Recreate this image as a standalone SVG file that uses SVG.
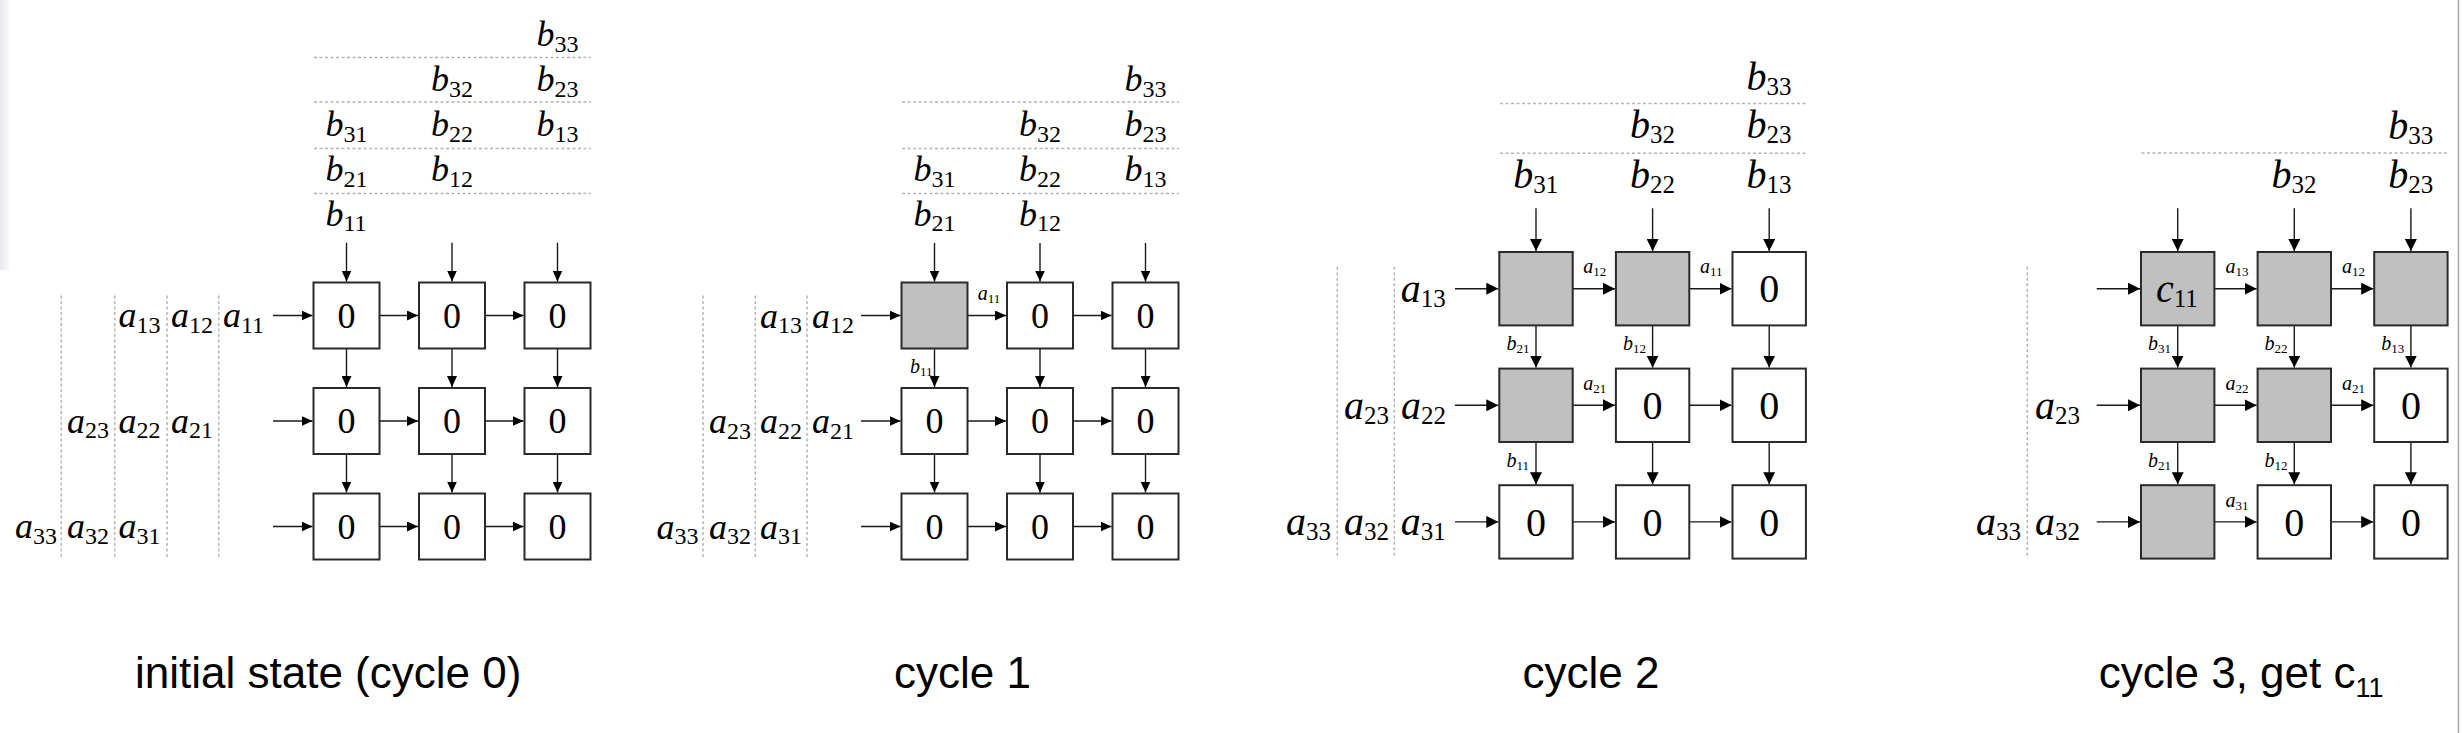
<svg xmlns="http://www.w3.org/2000/svg" width="2462" height="733" viewBox="0 0 2462 733">
<style>
.bg{fill:#ffffff}
.box{stroke:#2a2a2a;stroke-width:2;fill:#ffffff}
.box.g{fill:#c0c0c0}
.a1{stroke:#1a1a1a;stroke-width:1.4;fill:none;marker-end:url(#ah1)}
.a3{stroke:#1a1a1a;stroke-width:1.4;fill:none;marker-end:url(#ah3)}
.dot{stroke:#b4b4b4;stroke-width:1.5;stroke-dasharray:3 2.5;fill:none}
.t1{font-family:"Liberation Serif","Times New Roman",serif;font-size:36px;font-style:italic;fill:#000}
.t3{font-family:"Liberation Serif","Times New Roman",serif;font-size:40px;font-style:italic;fill:#000}
.s1{font-style:normal;font-size:24px}
.s3{font-style:normal;font-size:25px}
.sm{font-family:"Liberation Serif","Times New Roman",serif;font-size:20px;font-style:italic;fill:#000}
.ss{font-style:normal;font-size:13px}
.z1{font-family:"Liberation Serif","Times New Roman",serif;font-size:36px;text-anchor:middle;fill:#000}
.z3{font-family:"Liberation Serif","Times New Roman",serif;font-size:40px;text-anchor:middle;fill:#000}
.title{font-family:"Liberation Sans",Arial,sans-serif;font-size:44px;fill:#000}
.tsub{font-size:27px}
</style>
<defs>
<marker id="ah1" markerUnits="userSpaceOnUse" viewBox="0 0 11 10" refX="11" refY="5" markerWidth="11" markerHeight="10" orient="auto"><path d="M0,0 L11,5 L0,10 z" fill="#000"/></marker>
<marker id="ah3" markerUnits="userSpaceOnUse" viewBox="0 0 12 12" refX="12" refY="6" markerWidth="12" markerHeight="12" orient="auto"><path d="M0,0 L12,6 L0,12 z" fill="#000"/></marker>
<linearGradient id="edge" x1="0" y1="0" x2="1" y2="0"><stop offset="0" stop-color="#e6e8ee"/><stop offset="1" stop-color="#ffffff"/></linearGradient>
</defs>
<rect class="bg" x="0" y="0" width="2462" height="733"/>
<rect x="0" y="0" width="12" height="270" fill="url(#edge)"/>
<line x1="2458.5" y1="0" x2="2458.5" y2="733" stroke="#a8a8a8" stroke-width="1.5"/>

<!-- ============ PANEL 1 ============ -->
<g id="p1-dotted">
<path class="dot" d="M314 57.5H591M314 102H591M314 148.5H591M314 193.5H591"/>
<path class="dot" d="M61.3 295.6V558.5M114.7 295.6V558.5M167 295.6V558.5M218.7 295.6V558.5"/>
</g>
<g id="p1-connectors">
<path class="a1" d="M346.5 242.7V281.5"/><path class="a1" d="M452 242.7V281.5"/><path class="a1" d="M557.5 242.7V281.5"/>
<path class="a1" d="M346.5 348.5V387"/><path class="a1" d="M452 348.5V387"/><path class="a1" d="M557.5 348.5V387"/>
<path class="a1" d="M346.5 454V492.5"/><path class="a1" d="M452 454V492.5"/><path class="a1" d="M557.5 454V492.5"/>
<path class="a1" d="M273 315.5H312.5"/><path class="a1" d="M379.5 315.5H418"/><path class="a1" d="M485 315.5H523.5"/>
<path class="a1" d="M273 421H312.5"/><path class="a1" d="M379.5 421H418"/><path class="a1" d="M485 421H523.5"/>
<path class="a1" d="M273 526.5H312.5"/><path class="a1" d="M379.5 526.5H418"/><path class="a1" d="M485 526.5H523.5"/>
</g>
<g id="p1-pe11"><rect class="box" x="313.5" y="282.5" width="66" height="66"/><text class="z1" x="346.5" y="327.8">0</text></g>
<g id="p1-pe12"><rect class="box" x="419" y="282.5" width="66" height="66"/><text class="z1" x="452" y="327.8">0</text></g>
<g id="p1-pe13"><rect class="box" x="524.5" y="282.5" width="66" height="66"/><text class="z1" x="557.5" y="327.8">0</text></g>
<g id="p1-pe21"><rect class="box" x="313.5" y="388" width="66" height="66"/><text class="z1" x="346.5" y="433.3">0</text></g>
<g id="p1-pe22"><rect class="box" x="419" y="388" width="66" height="66"/><text class="z1" x="452" y="433.3">0</text></g>
<g id="p1-pe23"><rect class="box" x="524.5" y="388" width="66" height="66"/><text class="z1" x="557.5" y="433.3">0</text></g>
<g id="p1-pe31"><rect class="box" x="313.5" y="493.5" width="66" height="66"/><text class="z1" x="346.5" y="538.8">0</text></g>
<g id="p1-pe32"><rect class="box" x="419" y="493.5" width="66" height="66"/><text class="z1" x="452" y="538.8">0</text></g>
<g id="p1-pe33"><rect class="box" x="524.5" y="493.5" width="66" height="66"/><text class="z1" x="557.5" y="538.8">0</text></g>
<g id="p1-blabels">
<text class="t1" x="536.5" y="46">b<tspan class="s1" dy="5.5">33</tspan></text>
<text class="t1" x="431" y="91">b<tspan class="s1" dy="5.5">32</tspan></text>
<text class="t1" x="536.5" y="91">b<tspan class="s1" dy="5.5">23</tspan></text>
<text class="t1" x="325.5" y="136">b<tspan class="s1" dy="5.5">31</tspan></text>
<text class="t1" x="431" y="136">b<tspan class="s1" dy="5.5">22</tspan></text>
<text class="t1" x="536.5" y="136">b<tspan class="s1" dy="5.5">13</tspan></text>
<text class="t1" x="325.5" y="181">b<tspan class="s1" dy="5.5">21</tspan></text>
<text class="t1" x="431" y="181">b<tspan class="s1" dy="5.5">12</tspan></text>
<text class="t1" x="325.5" y="225.5">b<tspan class="s1" dy="5.5">11</tspan></text>
</g>
<g id="p1-alabels">
<text class="t1" x="118.6" y="327">a<tspan class="s1" dy="5.5">13</tspan></text>
<text class="t1" x="171" y="327">a<tspan class="s1" dy="5.5">12</tspan></text>
<text class="t1" x="223" y="327">a<tspan class="s1" dy="5.5">11</tspan></text>
<text class="t1" x="67" y="432.5">a<tspan class="s1" dy="5.5">23</tspan></text>
<text class="t1" x="118.6" y="432.5">a<tspan class="s1" dy="5.5">22</tspan></text>
<text class="t1" x="171" y="432.5">a<tspan class="s1" dy="5.5">21</tspan></text>
<text class="t1" x="15" y="538">a<tspan class="s1" dy="5.5">33</tspan></text>
<text class="t1" x="67" y="538">a<tspan class="s1" dy="5.5">32</tspan></text>
<text class="t1" x="118.6" y="538">a<tspan class="s1" dy="5.5">31</tspan></text>
</g>
<text id="title1" class="title" x="135" y="688">initial state (cycle 0)</text>

<!-- ============ PANEL 2 ============ -->
<g id="p2-dotted">
<path class="dot" d="M902 102H1179M902 148.5H1179M902 193.5H1179"/>
<path class="dot" d="M703 295.6V558.5M755.3 295.6V558.5M807 295.6V558.5"/>
</g>
<g id="p2-connectors">
<path class="a1" d="M934.5 243V281.5"/><path class="a1" d="M1040 243V281.5"/><path class="a1" d="M1145.5 243V281.5"/>
<path class="a1" d="M934.5 348.5V387"/><path class="a1" d="M1040 348.5V387"/><path class="a1" d="M1145.5 348.5V387"/>
<path class="a1" d="M934.5 454V492.5"/><path class="a1" d="M1040 454V492.5"/><path class="a1" d="M1145.5 454V492.5"/>
<path class="a1" d="M861 315.5H900.5"/><path class="a1" d="M967.5 315.5H1006"/><path class="a1" d="M1073 315.5H1111.5"/>
<path class="a1" d="M861 421H900.5"/><path class="a1" d="M967.5 421H1006"/><path class="a1" d="M1073 421H1111.5"/>
<path class="a1" d="M861 526.5H900.5"/><path class="a1" d="M967.5 526.5H1006"/><path class="a1" d="M1073 526.5H1111.5"/>
<text class="sm" x="977.7" y="300">a<tspan class="ss" dy="3">11</tspan></text>
<text class="sm" x="910" y="372.7">b<tspan class="ss" dy="3">11</tspan></text>
</g>
<g id="p2-pe11"><rect class="box g" x="901.5" y="282.5" width="66" height="66"/></g>
<g id="p2-pe12"><rect class="box" x="1007" y="282.5" width="66" height="66"/><text class="z1" x="1040" y="327.8">0</text></g>
<g id="p2-pe13"><rect class="box" x="1112.5" y="282.5" width="66" height="66"/><text class="z1" x="1145.5" y="327.8">0</text></g>
<g id="p2-pe21"><rect class="box" x="901.5" y="388" width="66" height="66"/><text class="z1" x="934.5" y="433.3">0</text></g>
<g id="p2-pe22"><rect class="box" x="1007" y="388" width="66" height="66"/><text class="z1" x="1040" y="433.3">0</text></g>
<g id="p2-pe23"><rect class="box" x="1112.5" y="388" width="66" height="66"/><text class="z1" x="1145.5" y="433.3">0</text></g>
<g id="p2-pe31"><rect class="box" x="901.5" y="493.5" width="66" height="66"/><text class="z1" x="934.5" y="538.8">0</text></g>
<g id="p2-pe32"><rect class="box" x="1007" y="493.5" width="66" height="66"/><text class="z1" x="1040" y="538.8">0</text></g>
<g id="p2-pe33"><rect class="box" x="1112.5" y="493.5" width="66" height="66"/><text class="z1" x="1145.5" y="538.8">0</text></g>
<g id="p2-blabels">
<text class="t1" x="1124.5" y="91">b<tspan class="s1" dy="5.5">33</tspan></text>
<text class="t1" x="1019" y="136">b<tspan class="s1" dy="5.5">32</tspan></text>
<text class="t1" x="1124.5" y="136">b<tspan class="s1" dy="5.5">23</tspan></text>
<text class="t1" x="913.5" y="181">b<tspan class="s1" dy="5.5">31</tspan></text>
<text class="t1" x="1019" y="181">b<tspan class="s1" dy="5.5">22</tspan></text>
<text class="t1" x="1124.5" y="181">b<tspan class="s1" dy="5.5">13</tspan></text>
<text class="t1" x="913.5" y="225.5">b<tspan class="s1" dy="5.5">21</tspan></text>
<text class="t1" x="1019" y="225.5">b<tspan class="s1" dy="5.5">12</tspan></text>
</g>
<g id="p2-alabels">
<text class="t1" x="760" y="327.5">a<tspan class="s1" dy="5.5">13</tspan></text>
<text class="t1" x="812" y="327.5">a<tspan class="s1" dy="5.5">12</tspan></text>
<text class="t1" x="709" y="433">a<tspan class="s1" dy="5.5">23</tspan></text>
<text class="t1" x="760" y="433">a<tspan class="s1" dy="5.5">22</tspan></text>
<text class="t1" x="812" y="433">a<tspan class="s1" dy="5.5">21</tspan></text>
<text class="t1" x="656.5" y="538.5">a<tspan class="s1" dy="5.5">33</tspan></text>
<text class="t1" x="709" y="538.5">a<tspan class="s1" dy="5.5">32</tspan></text>
<text class="t1" x="760" y="538.5">a<tspan class="s1" dy="5.5">31</tspan></text>
</g>
<text id="title2" class="title" x="894" y="688">cycle 1</text>

<!-- ============ PANEL 3 ============ -->
<g id="p3-dotted">
<path class="dot" d="M1500 103.5H1806M1500 153.3H1806"/>
<path class="dot" d="M1337.3 266.7V558.6M1394.3 266.7V558.6"/>
</g>
<g id="p3-connectors">
<path class="a3" d="M1536 208.3V251"/><path class="a3" d="M1652.6 208.3V251"/><path class="a3" d="M1769.2 208.3V251"/>
<path class="a3" d="M1536 325.4V367.6"/><path class="a3" d="M1652.6 325.4V367.6"/><path class="a3" d="M1769.2 325.4V367.6"/>
<path class="a3" d="M1536 442V484.2"/><path class="a3" d="M1652.6 442V484.2"/><path class="a3" d="M1769.2 442V484.2"/>
<path class="a3" d="M1455 288.7H1498.3"/><path class="a3" d="M1572.7 288.7H1614.9"/><path class="a3" d="M1689.3 288.7H1731.5"/>
<path class="a3" d="M1455 405.3H1498.3"/><path class="a3" d="M1572.7 405.3H1614.9"/><path class="a3" d="M1689.3 405.3H1731.5"/>
<path class="a3" d="M1455 521.9H1498.3"/><path class="a3" d="M1572.7 521.9H1614.9"/><path class="a3" d="M1689.3 521.9H1731.5"/>
<text class="sm" x="1583.3" y="273.3">a<tspan class="ss" dy="3">12</tspan></text>
<text class="sm" x="1700" y="273.3">a<tspan class="ss" dy="3">11</tspan></text>
<text class="sm" x="1583.3" y="390">a<tspan class="ss" dy="3">21</tspan></text>
<text class="sm" x="1506.5" y="350">b<tspan class="ss" dy="3">21</tspan></text>
<text class="sm" x="1623" y="350">b<tspan class="ss" dy="3">12</tspan></text>
<text class="sm" x="1506.5" y="466.6">b<tspan class="ss" dy="3">11</tspan></text>
</g>
<g id="p3-pe11"><rect class="box g" x="1499.3" y="252" width="73.4" height="73.4"/></g>
<g id="p3-pe12"><rect class="box g" x="1615.9" y="252" width="73.4" height="73.4"/></g>
<g id="p3-pe13"><rect class="box" x="1732.5" y="252" width="73.4" height="73.4"/><text class="z3" x="1769.2" y="302.4">0</text></g>
<g id="p3-pe21"><rect class="box g" x="1499.3" y="368.6" width="73.4" height="73.4"/></g>
<g id="p3-pe22"><rect class="box" x="1615.9" y="368.6" width="73.4" height="73.4"/><text class="z3" x="1652.6" y="419">0</text></g>
<g id="p3-pe23"><rect class="box" x="1732.5" y="368.6" width="73.4" height="73.4"/><text class="z3" x="1769.2" y="419">0</text></g>
<g id="p3-pe31"><rect class="box" x="1499.3" y="485.2" width="73.4" height="73.4"/><text class="z3" x="1536" y="535.6">0</text></g>
<g id="p3-pe32"><rect class="box" x="1615.9" y="485.2" width="73.4" height="73.4"/><text class="z3" x="1652.6" y="535.6">0</text></g>
<g id="p3-pe33"><rect class="box" x="1732.5" y="485.2" width="73.4" height="73.4"/><text class="z3" x="1769.2" y="535.6">0</text></g>
<g id="p3-blabels">
<text class="t3" x="1746.5" y="89.5">b<tspan class="s3" dy="5">33</tspan></text>
<text class="t3" x="1629.9" y="138.3">b<tspan class="s3" dy="5">32</tspan></text>
<text class="t3" x="1746.5" y="138.3">b<tspan class="s3" dy="5">23</tspan></text>
<text class="t3" x="1513.3" y="187.5">b<tspan class="s3" dy="5">31</tspan></text>
<text class="t3" x="1629.9" y="187.5">b<tspan class="s3" dy="5">22</tspan></text>
<text class="t3" x="1746.5" y="187.5">b<tspan class="s3" dy="5">13</tspan></text>
</g>
<g id="p3-alabels">
<text class="t3" x="1400.7" y="302">a<tspan class="s3" dy="5">13</tspan></text>
<text class="t3" x="1344" y="418.6">a<tspan class="s3" dy="5">23</tspan></text>
<text class="t3" x="1401" y="418.6">a<tspan class="s3" dy="5">22</tspan></text>
<text class="t3" x="1286" y="535.2">a<tspan class="s3" dy="5">33</tspan></text>
<text class="t3" x="1344" y="535.2">a<tspan class="s3" dy="5">32</tspan></text>
<text class="t3" x="1400.7" y="535.2">a<tspan class="s3" dy="5">31</tspan></text>
</g>
<text id="title3" class="title" x="1522.6" y="688">cycle 2</text>

<!-- ============ PANEL 4 ============ -->
<g id="p4-dotted">
<path class="dot" d="M2141.5 153H2448"/>
<path class="dot" d="M2027.3 266.7V558.6"/>
</g>
<g id="p4-connectors">
<path class="a3" d="M2177.7 208.3V251"/><path class="a3" d="M2294.3 208.3V251"/><path class="a3" d="M2410.9 208.3V251"/>
<path class="a3" d="M2177.7 325.4V367.6"/><path class="a3" d="M2294.3 325.4V367.6"/><path class="a3" d="M2410.9 325.4V367.6"/>
<path class="a3" d="M2177.7 442V484.2"/><path class="a3" d="M2294.3 442V484.2"/><path class="a3" d="M2410.9 442V484.2"/>
<path class="a3" d="M2096.7 288.7H2140"/><path class="a3" d="M2214.4 288.7H2256.6"/><path class="a3" d="M2331 288.7H2373.2"/>
<path class="a3" d="M2096.7 405.3H2140"/><path class="a3" d="M2214.4 405.3H2256.6"/><path class="a3" d="M2331 405.3H2373.2"/>
<path class="a3" d="M2096.7 521.9H2140"/><path class="a3" d="M2214.4 521.9H2256.6"/><path class="a3" d="M2331 521.9H2373.2"/>
<text class="sm" x="2225.5" y="273.3">a<tspan class="ss" dy="3">13</tspan></text>
<text class="sm" x="2342" y="273.3">a<tspan class="ss" dy="3">12</tspan></text>
<text class="sm" x="2225.5" y="390">a<tspan class="ss" dy="3">22</tspan></text>
<text class="sm" x="2342" y="390">a<tspan class="ss" dy="3">21</tspan></text>
<text class="sm" x="2225.5" y="506.6">a<tspan class="ss" dy="3">31</tspan></text>
<text class="sm" x="2148" y="350">b<tspan class="ss" dy="3">31</tspan></text>
<text class="sm" x="2264.6" y="350">b<tspan class="ss" dy="3">22</tspan></text>
<text class="sm" x="2381.2" y="350">b<tspan class="ss" dy="3">13</tspan></text>
<text class="sm" x="2148" y="466.6">b<tspan class="ss" dy="3">21</tspan></text>
<text class="sm" x="2264.6" y="466.6">b<tspan class="ss" dy="3">12</tspan></text>
</g>
<g id="p4-pe11"><rect class="box g" x="2141" y="252" width="73.4" height="73.4"/><text class="t3" x="2156" y="302">c<tspan class="s3" dy="5">11</tspan></text></g>
<g id="p4-pe12"><rect class="box g" x="2257.6" y="252" width="73.4" height="73.4"/></g>
<g id="p4-pe13"><rect class="box g" x="2374.2" y="252" width="73.4" height="73.4"/></g>
<g id="p4-pe21"><rect class="box g" x="2141" y="368.6" width="73.4" height="73.4"/></g>
<g id="p4-pe22"><rect class="box g" x="2257.6" y="368.6" width="73.4" height="73.4"/></g>
<g id="p4-pe23"><rect class="box" x="2374.2" y="368.6" width="73.4" height="73.4"/><text class="z3" x="2410.9" y="419">0</text></g>
<g id="p4-pe31"><rect class="box g" x="2141" y="485.2" width="73.4" height="73.4"/></g>
<g id="p4-pe32"><rect class="box" x="2257.6" y="485.2" width="73.4" height="73.4"/><text class="z3" x="2294.3" y="535.6">0</text></g>
<g id="p4-pe33"><rect class="box" x="2374.2" y="485.2" width="73.4" height="73.4"/><text class="z3" x="2410.9" y="535.6">0</text></g>
<g id="p4-blabels">
<text class="t3" x="2388.2" y="139">b<tspan class="s3" dy="5">33</tspan></text>
<text class="t3" x="2271.6" y="188">b<tspan class="s3" dy="5">32</tspan></text>
<text class="t3" x="2388.2" y="188">b<tspan class="s3" dy="5">23</tspan></text>
</g>
<g id="p4-alabels">
<text class="t3" x="2035" y="418.6">a<tspan class="s3" dy="5">23</tspan></text>
<text class="t3" x="1976" y="535.2">a<tspan class="s3" dy="5">33</tspan></text>
<text class="t3" x="2035" y="535.2">a<tspan class="s3" dy="5">32</tspan></text>
</g>
<text id="title4" class="title" x="2098.7" y="688">cycle 3, get c<tspan class="tsub" dy="9">11</tspan></text>
</svg>
